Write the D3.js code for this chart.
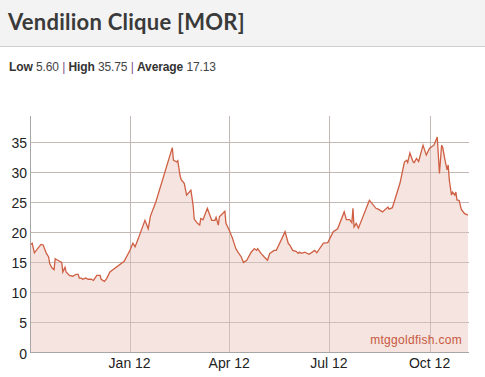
<!DOCTYPE html>
<html>
<head>
<meta charset="utf-8">
<script src="https://cdn.jsdelivr.net/npm/d3@7"></script>
<style>
  html, body { margin: 0; padding: 0; background: #fff; }
  body { width: 485px; height: 377px; overflow: hidden; position: relative; }
  .head { height: 46px; background: #f3f3f3; border-bottom: 1px solid #cfcfcf; }
  .head h1 { margin: 0; position: absolute; left: 8px; top: 8px; font: bold 22px Lato, "Open Sans", sans-serif; color: #3a3a3a; letter-spacing: 0.25px; }
  .stats { position: absolute; left: 9px; top: 60px; font: 12px "Liberation Sans", Arial, sans-serif; color: #444; letter-spacing: -0.1px; }
  .stats b { color: #333; }
  .stats .sep { color: #7b4f86; }
  svg { position: absolute; left: 0; top: 0; }
</style>
</head>
<body>
<div class="head"><h1>Vendilion Clique [MOR]</h1></div>
<div class="stats"><b>Low</b> 5.60 <span class="sep">|</span> <b>High</b> 35.75 <span class="sep">|</span> <b>Average</b> 17.13</div>
<svg id="chart" width="485" height="377"></svg>
<script>
const dates = [
  "2011-10-02","2011-10-04","2011-10-06","2011-10-12","2011-10-14","2011-10-17","2011-10-19","2011-10-20",
  "2011-10-22","2011-10-24","2011-10-25","2011-10-29","2011-10-31","2011-11-01","2011-11-03","2011-11-04",
  "2011-11-07","2011-11-10","2011-11-13","2011-11-15","2011-11-16","2011-11-18","2011-11-19","2011-11-22",
  "2011-11-24","2011-11-27","2011-11-29","2011-12-02","2011-12-05","2011-12-06","2011-12-09","2011-12-11",
  "2011-12-14","2011-12-27","2012-01-01","2012-01-04","2012-01-06","2012-01-09","2012-01-15","2012-01-18",
  "2012-01-20","2012-01-25","2012-02-09","2012-02-10","2012-02-13","2012-02-14","2012-02-16","2012-02-17",
  "2012-02-20","2012-02-22","2012-02-26","2012-02-28","2012-02-29","2012-03-03","2012-03-05","2012-03-06",
  "2012-03-08","2012-03-12","2012-03-16","2012-03-19","2012-03-20","2012-03-22","2012-03-23","2012-03-28",
  "2012-03-29","2012-04-01","2012-04-04","2012-04-07","2012-04-09","2012-04-12","2012-04-14","2012-04-17",
  "2012-04-21","2012-04-24","2012-04-26","2012-04-27","2012-04-30","2012-05-03","2012-05-06","2012-05-08",
  "2012-05-12","2012-05-14","2012-05-22","2012-05-25","2012-05-26","2012-05-29","2012-06-01","2012-06-03",
  "2012-06-04","2012-06-06","2012-06-09","2012-06-13","2012-06-18","2012-06-20","2012-06-26","2012-06-30",
  "2012-07-05","2012-07-09","2012-07-15","2012-07-17","2012-07-20","2012-07-22","2012-07-23","2012-07-24",
  "2012-07-26","2012-07-28","2012-08-07","2012-08-13","2012-08-15","2012-08-19","2012-08-24","2012-08-25",
  "2012-08-28","2012-09-04","2012-09-08","2012-09-10","2012-09-11","2012-09-13","2012-09-16","2012-09-17",
  "2012-09-19","2012-09-21","2012-09-25","2012-09-28","2012-10-01","2012-10-05","2012-10-08","2012-10-10",
  "2012-10-12","2012-10-13","2012-10-15","2012-10-17","2012-10-18","2012-10-19","2012-10-21","2012-10-22",
  "2012-10-24","2012-10-25","2012-10-26","2012-10-28","2012-10-30","2012-11-02","2012-11-05"
];
const prices = [
  17.75,18.1,16.5,17.9,17.8,16.4,15.8,14.7,
  14.0,13.7,15.5,15.1,14.9,13.3,14.1,13.3,
  12.75,12.6,12.9,12.9,12.3,12.3,12.1,12.3,
  12.1,12.1,11.9,12.75,12.75,12.1,11.75,12.2,
  13.3,15.1,16.8,18.1,17.5,18.9,21.9,20.5,
  22.6,25.0,34.0,31.9,31.6,31.8,29.4,28.7,
  28.0,26.1,26.9,24.4,22.1,21.4,21.1,22.2,
  22.0,23.9,21.9,21.9,22.4,21.1,22.5,23.4,
  21.4,20.25,18.9,17.2,16.6,15.8,14.9,15.25,
  16.6,17.2,16.9,17.2,16.4,15.8,15.25,16.4,
  16.9,16.9,20.0,18.0,17.9,16.9,16.75,16.4,
  16.6,16.4,16.6,16.25,16.9,16.5,18.1,18.2,
  20.0,20.5,23.3,22.0,22.0,21.5,23.9,20.8,
  21.4,20.6,25.25,23.9,23.75,23.3,24.1,23.75,
  24.0,28.1,31.6,31.9,31.5,33.1,31.6,31.5,
  32.2,31.7,34.4,32.75,33.9,34.4,35.75,29.7,
  34.4,34.0,32.0,30.3,31.1,28.6,26.1,26.6,
  26.1,26.6,25.3,25.2,23.7,23.0,22.75
];
const yTicks = [0, 5, 10, 15, 20, 25, 30, 35];
const xTicks = ["2012-01-01", "2012-04-01", "2012-07-01", "2012-10-01"];

const parse = d3.timeParse("%Y-%m-%d");
const data = dates.map((d, i) => ({ date: parse(d), price: prices[i] }));

const mLeft = 30, mRight = 469, mTop = 116, mBottom = 352;
const x = d3.scaleTime()
  .domain([parse("2011-10-02"), parse("2012-11-06")])
  .range([mLeft, mRight]);
const y = d3.scaleLinear().domain([0, 39.25]).range([mBottom, mTop]);

const svg = d3.select("#chart");

function grid(color, opacity) {
  svg.append("g")
    .selectAll("line")
    .data(yTicks.slice(1))
    .join("line")
    .attr("x1", mLeft).attr("x2", mRight)
    .attr("y1", (d) => Math.round(y(d)) + 0.5)
    .attr("y2", (d) => Math.round(y(d)) + 0.5)
    .attr("stroke", color).attr("stroke-opacity", opacity);
  svg.append("g")
    .selectAll("line")
    .data(xTicks)
    .join("line")
    .attr("x1", (d) => Math.round(x(parse(d))) + 0.5)
    .attr("x2", (d) => Math.round(x(parse(d))) + 0.5)
    .attr("y1", mTop).attr("y2", mBottom)
    .attr("stroke", color).attr("stroke-opacity", opacity);
}

grid("#cccccc", 1);

// area + line
svg.append("path")
  .datum(data)
  .attr("fill", "#f5e4df")
  .attr("d", d3.area().x((d) => x(d.date)).y0(mBottom).y1((d) => y(d.price)));

// grid shows through the fill, slightly tinted
grid("#c2b2ae", 0.75);

svg.append("path")
  .datum(data)
  .attr("fill", "none")
  .attr("stroke", "#cf5f42")
  .attr("stroke-width", 1.3)
  .attr("d", d3.line().x((d) => x(d.date)).y((d) => y(d.price)));

// axes
svg.append("line")
  .attr("x1", mLeft + 0.5).attr("x2", mLeft + 0.5)
  .attr("y1", mTop).attr("y2", mBottom)
  .attr("stroke", "#a6a6a6");
svg.append("line")
  .attr("x1", mLeft).attr("x2", mRight)
  .attr("y1", mBottom + 0.5).attr("y2", mBottom + 0.5)
  .attr("stroke", "#a6a6a6");

svg.append("g")
  .selectAll("text")
  .data(yTicks)
  .join("text")
  .attr("x", 27)
  .attr("y", (d) => y(d) + 6.5)
  .attr("text-anchor", "end")
  .attr("font-family", "Liberation Sans, Arial, sans-serif")
  .attr("font-size", 14)
  .attr("fill", "#222")
  .text((d) => d);

const fmt = d3.timeFormat("%b %y");
svg.append("g")
  .selectAll("text")
  .data(xTicks)
  .join("text")
  .attr("x", (d) => x(parse(d)))
  .attr("y", 367.5)
  .attr("text-anchor", "middle")
  .attr("font-family", "Liberation Sans, Arial, sans-serif")
  .attr("font-size", 14)
  .attr("fill", "#222")
  .text((d) => fmt(parse(d)));

svg.append("text")
  .attr("x", 462)
  .attr("y", 344)
  .attr("text-anchor", "end")
  .attr("font-family", "Liberation Sans, Arial, sans-serif")
  .attr("font-size", 12)
  .attr("letter-spacing", 0.3)
  .attr("fill", "#c8583e")
  .text("mtggoldfish.com");
</script>
</body>
</html>
